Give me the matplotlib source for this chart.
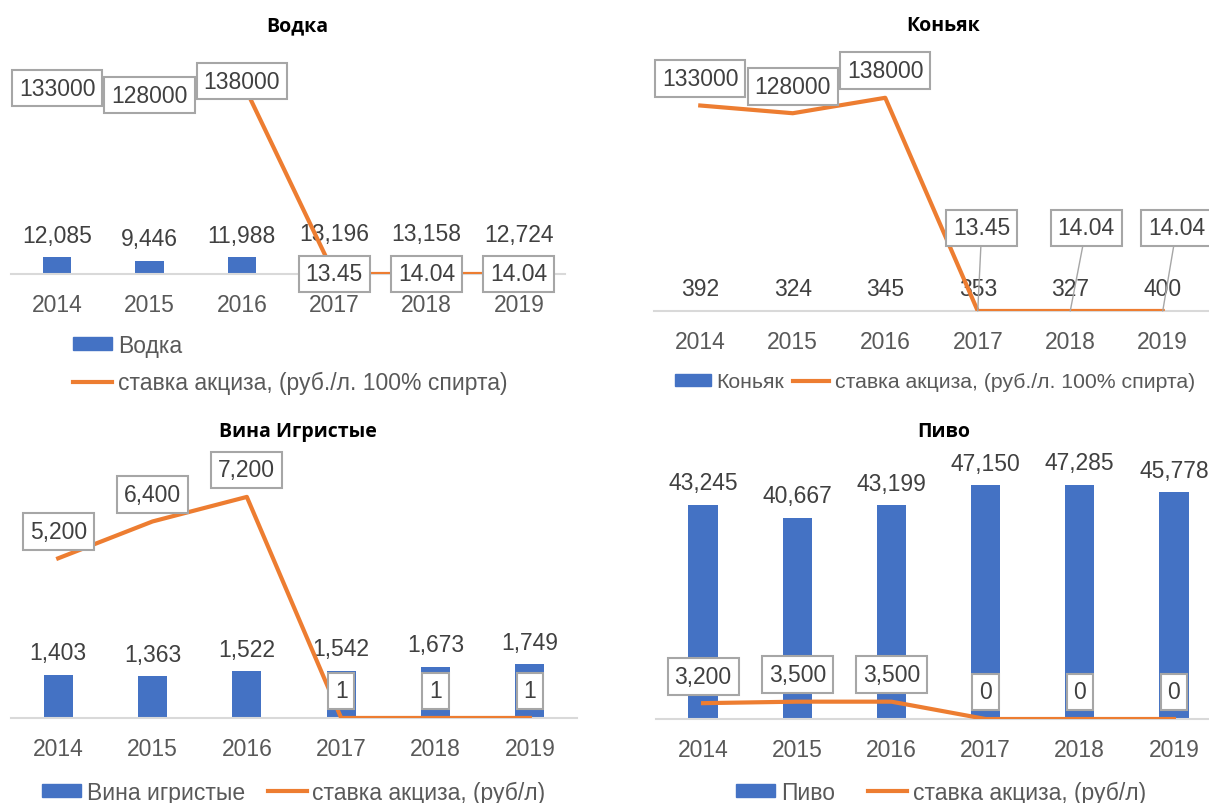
import numpy as np
import matplotlib
matplotlib.use("Agg")
import matplotlib.pyplot as plt
from matplotlib.patches import Patch
from matplotlib.lines import Line2D

plt.rcParams['font.family'] = ['Liberation Sans', 'DejaVu Sans']

years = ['2014', '2015', '2016', '2017', '2018', '2019']

vodka = [12085, 9446, 11988, 13196, 13158, 12724]
vodka_rate = [133000, 128000, 138000, 13.45, 14.04, 14.04]

cognac = [392, 324, 345, 353, 327, 400]
cognac_rate = [133000, 128000, 138000, 13.45, 14.04, 14.04]

wine = [1403, 1363, 1522, 1542, 1673, 1749]
wine_rate = [5200, 6400, 7200, 1, 1, 1]

beer = [43245, 40667, 43199, 47150, 47285, 45778]
beer_rate = [3200, 3500, 3500, 0, 0, 0]

rate_spirit = "ставка акциза, (руб./л. 100% спирта)"
rate_litre = "ставка акциза, (руб/л)"

BLUE = '#4472C4'
ORANGE = '#ED7D31'
TXT = '#404040'
TICK = '#595959'
W, H = 1209, 804

fig = plt.figure(figsize=(W / 100, H / 100), dpi=100)


def px_axes(x0, x1, base, top):
    return fig.add_axes([x0 / W, 1 - base / H, (x1 - x0) / W, (base - top) / H])


def panel(ax, bars, rate, ymax, rate_fmt, offsets, arrows=False):
    x = np.arange(len(years))
    ax.bar(x, bars, width=0.31, color=BLUE, zorder=2)
    ax.plot(x, rate, color=ORANGE, lw=3, zorder=4, solid_joinstyle='round')
    for i, v in enumerate(bars):
        ax.annotate(f'{v:,}', (i, v), xytext=(0, 22), textcoords='offset pixels',
                    ha='center', va='center', fontsize=16.5, color=TXT, zorder=3)
    for i, v in enumerate(rate):
        dx, dy = offsets[i]
        kw = {}
        if arrows and (dx, dy) != (0, 27):
            kw['arrowprops'] = dict(arrowstyle='-', color='#A6A6A6', lw=1,
                                    shrinkA=0, shrinkB=0)
        ax.annotate(rate_fmt(v), (i, v), xytext=(dx, dy), textcoords='offset pixels',
                    ha='center', va='center', fontsize=16.5, color=TXT, zorder=5,
                    bbox=dict(boxstyle='square,pad=0.3', fc='white', ec='#A6A6A6', lw=1.5),
                    **kw)
    ax.set_xlim(-0.5, 5.5)
    ax.set_ylim(0, ymax)
    ax.set_xticks(x, years)
    ax.tick_params(axis='x', length=0, pad=13.5, labelsize=16.5, colors=TICK)
    ax.set_yticks([])
    for s in ['top', 'left', 'right']:
        ax.spines[s].set_visible(False)
    ax.spines['bottom'].set_color('#D9D9D9')
    ax.spines['bottom'].set_linewidth(1.5)
    ax.patch.set_alpha(0)


def title(x, y, s):
    fig.text(x / W, 1 - y / H, s, ha='center', va='center', fontsize=14,
             fontweight='bold', family=['Open Sans', 'DejaVu Sans'], color='black')


def legend(ax, name, rate_label, x, y, ncol, colsp, size=16.5):
    handles = [Patch(color=BLUE), Line2D([], [], color=ORANGE, lw=3)]
    ax.legend(handles, [name, rate_label], loc='center left',
              bbox_to_anchor=(x / W, 1 - y / H), bbox_transform=fig.transFigure,
              frameon=False, ncol=ncol, fontsize=size, labelcolor=TICK,
              handlelength=1.7, handleheight=0.5, handletextpad=0.25,
              columnspacing=colsp, borderpad=0, borderaxespad=0, labelspacing=0.6)


int_fmt = lambda v: f'{v:,.0f}'
raw_fmt = lambda v: f'{v:g}'

# Водка
ax1 = px_axes(11, 565, 275, 60)
panel(ax1, vodka, vodka_rate, 153800, raw_fmt, [(0, 0)] * 6)
title(297, 26, 'Водка')
legend(ax1, 'Водка', rate_spirit, 73, 365, 1, 1.0)

# Коньяк
ax2 = px_axes(654, 1209, 312, 60)
panel(ax2, cognac, cognac_rate, 163100, raw_fmt,
      [(0, 27), (0, 27), (0, 27), (4, 83), (16, 83), (14, 83)], arrows=True)
title(943, 26, 'Коньяк')
legend(ax2, 'Коньяк', rate_spirit, 675, 383, 2, 0.42, size=15.3)

# Вина Игристые
ax3 = px_axes(11, 577, 719, 450)
panel(ax3, wine, wine_rate, 8760, int_fmt, [(0, 27)] * 6)
title(298, 432, 'Вина Игристые')
legend(ax3, 'Вина игристые', rate_litre, 42, 793, 2, 1.0)

# Пиво
ax4 = px_axes(656, 1221, 720, 460)
panel(ax4, beer, beer_rate, 52500, int_fmt, [(0, 27)] * 6)
title(944, 432, 'Пиво')
legend(ax4, 'Пиво', rate_litre, 736, 793, 2, 1.45)

fig.savefig('out.png', dpi=100)
